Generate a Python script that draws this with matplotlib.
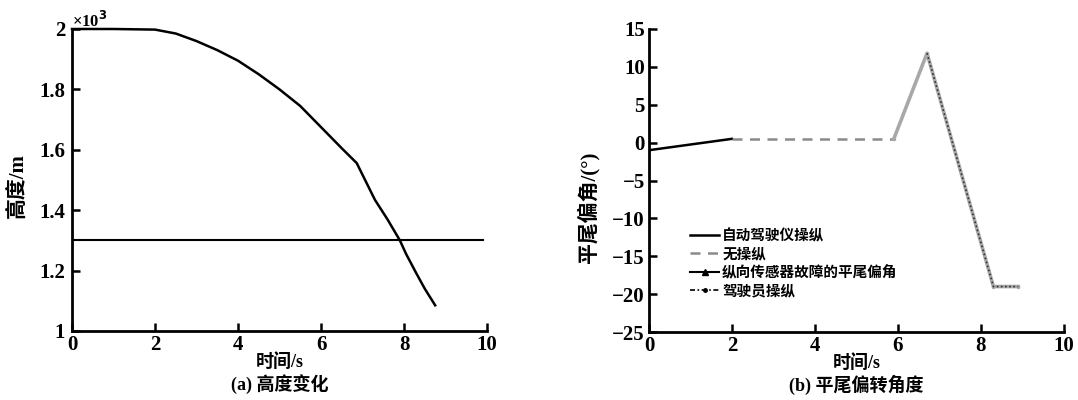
import matplotlib
matplotlib.use("Agg")
import matplotlib.pyplot as plt

plt.rcParams['font.family'] = ['Liberation Serif', 'Noto Sans CJK SC', 'DejaVu Sans']
plt.rcParams['font.weight'] = 'bold'
plt.rcParams['axes.unicode_minus'] = True

# ---- (a) altitude data (x10^3 m) ----
t_alt = [0, 1, 2, 2.5, 3, 3.5, 4, 4.5, 5, 5.5, 6, 6.5, 6.86, 7.3, 7.6, 7.9, 8.05, 8.3, 8.5, 8.75]
h_alt = [2.0, 2.0, 1.998, 1.985, 1.96, 1.93, 1.895, 1.85, 1.80, 1.745, 1.675, 1.605, 1.556,
         1.434, 1.37, 1.30, 1.255, 1.19, 1.14, 1.085]
t_ref = [0, 9.9]
h_ref = [1.3, 1.3]

# ---- (b) tail deflection data (deg) ----
t_auto = [0, 2.0]
d_auto = [-1.0, 0.5]
t_none = [2.0, 5.9]
d_none = [0.5, 0.5]
t_fault = [5.9, 6.7, 8.3, 8.9]
d_fault = [0.5, 11.8, -19.0, -19.0]
t_pilot = [6.7, 8.3, 8.9]
d_pilot = [11.8, -19.0, -19.0]

labels_b = ['自动驾驶仪操纵', '无操纵', '纵向传感器故障的平尾偏角', '驾驶员操纵']

fig = plt.figure(figsize=(10.78, 4.0), dpi=100)
ax1 = fig.add_axes([0.0668, 0.1725, 0.385, 0.755])
ax2 = fig.add_axes([0.602, 0.17, 0.385, 0.7575])

for ax in (ax1, ax2):
    for s in ('top', 'right'):
        ax.spines[s].set_visible(False)
    for s in ('left', 'bottom'):
        ax.spines[s].set_linewidth(2.0)
    ax.tick_params(direction='in', length=6, width=1.8, labelsize=15)
    ax.tick_params(axis='x', pad=3)
    ax.set_xlim(0, 10)
    ax.set_xticks([0, 2, 4, 6, 8, 10])

# (a)
ax1.plot(t_alt, h_alt, color='black', lw=1.8, clip_on=False)
ax1.plot(t_ref, h_ref, color='black', lw=1.5)
ax1.set_ylim(1, 2)
ax1.set_yticks([1, 1.2, 1.4, 1.6, 1.8, 2])
ax1.set_yticklabels(['1', '1.2', '1.4', '1.6', '1.8', '2'])
ax1.tick_params(axis='y', pad=5)
ax1.text(0.0, 0.995, '×10$^3$', transform=ax1.transAxes, fontsize=12, va='bottom', ha='left')
ax1.set_ylabel('高度/m', fontsize=15, fontweight='bold')
ax1.yaxis.set_label_coords(-0.106, 0.483)
ax1.set_xlabel('时间/s', fontsize=13, fontweight='bold')
ax1.xaxis.set_label_coords(0.5, -0.072)
ax1.text(0.5, -0.175, '(a) 高度变化', transform=ax1.transAxes, ha='center', va='center',
         fontsize=13, fontweight='bold')

# (b)
ax2.plot(t_auto, d_auto, color='black', lw=1.8, label=labels_b[0])
ax2.plot(t_none, d_none, color='#8a8a8a', lw=1.8, ls=(0, (4, 3)), label=labels_b[1])
ax2.plot(t_fault, d_fault, color='#a8a8a8', lw=2.6, marker='.', markersize=3,
         label=labels_b[2])
ax2.plot(t_pilot, d_pilot, color='#303030', lw=1.2, ls=(0, (1, 1.5)), label=labels_b[3])
ax2.set_ylim(-25, 15)
ax2.set_yticks([-25, -20, -15, -10, -5, 0, 5, 10, 15])
ax2.tick_params(axis='y', pad=3)
ax2.set_ylabel('平尾偏角/(°)', fontsize=15, fontweight='bold')
ax2.yaxis.set_label_coords(-0.118, 0.41)
ax2.set_xlabel('时间/s', fontsize=13, fontweight='bold')
ax2.xaxis.set_label_coords(0.5, -0.072)
ax2.text(0.5, -0.175, '(b) 平尾偏转角度', transform=ax2.transAxes, ha='center', va='center',
         fontsize=13, fontweight='bold')

h, l = ax2.get_legend_handles_labels()
h[2] = plt.Line2D([], [], color='black', lw=1.5, marker='^', markersize=4)
h[3] = plt.Line2D([], [], color='black', lw=1.2, ls=(0, (3, 1.5, 1, 1.5)), marker='.', markersize=5)
leg = ax2.legend(h, l, loc='upper left', bbox_to_anchor=(0.085, 0.36), frameon=False,
                 handlelength=2.0, handletextpad=0.2, labelspacing=0.3,
                 borderaxespad=0, prop={'weight': 'bold', 'size': 10.5})

fig.savefig('out.png', dpi=100)
